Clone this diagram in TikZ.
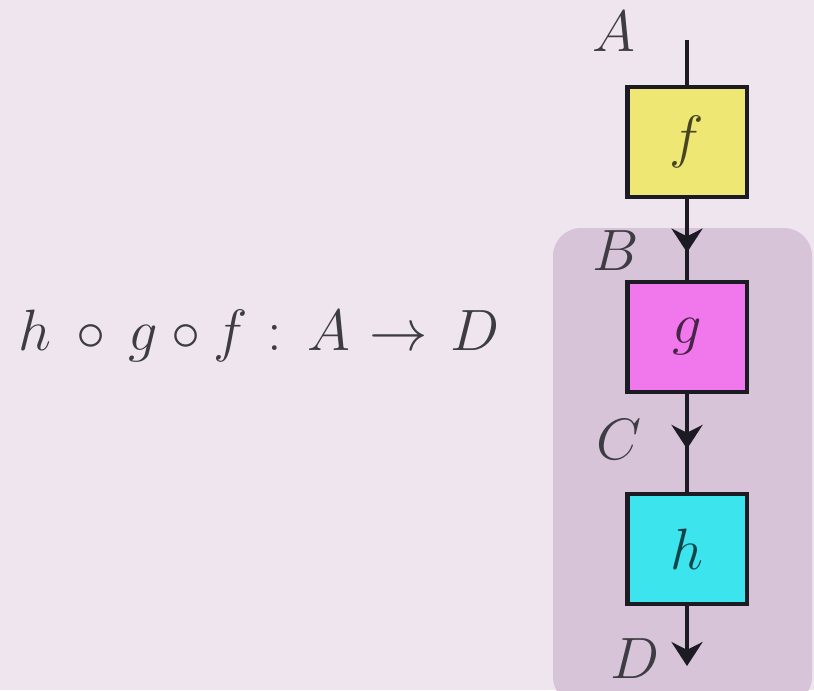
\documentclass[tikz,border=0pt]{standalone}
\usepackage{amsmath}
\usetikzlibrary{arrows.meta,decorations.markings}

\definecolor{bgpink}{RGB}{239,229,239}
\definecolor{hilite}{RGB}{215,196,217}
\definecolor{wirecol}{RGB}{28,26,34}
\definecolor{fyellow}{RGB}{238,231,116}
\definecolor{gmagenta}{RGB}{240,120,236}
\definecolor{hcyan}{RGB}{60,229,238}

\tikzset{
  mapbox/.style={draw=wirecol,line width=1.5pt,minimum width=1.49cm,minimum height=1.37cm,inner sep=0pt,font=\huge,text opacity=0.7},
  objlabel/.style={inner sep=0pt,font=\huge,text=wirecol!85},
  wire/.style={draw=wirecol,line width=1.6pt},
  tip/.tip={Stealth[length=8.5pt,width=11pt]},
  midarrow/.style={postaction={decorate},decoration={markings,
      mark=at position #1 with {\arrow{tip}}}}
}

\begin{document}
\begin{tikzpicture}[x=0.0125cm,y=-0.0125cm]
  % page and shaded block around g and h
  \fill[bgpink] (0,0) rectangle (814,690);
  \useasboundingbox (0,0) rectangle (814,690);
  \fill[hilite,rounded corners=0.35cm] (553,228) rectangle (812,705);

  % the three maps
  \node[mapbox,fill=fyellow] (f) at (687,142) {$f$};
  \node[mapbox,fill=gmagenta] (g) at (687,337) {$g$};
  \node[mapbox,fill=hcyan] (h) at (687,549) {$h$};
  \coordinate (top) at (687,40);
  \coordinate (bottom) at (687,666);

  % wires between them
  \draw[wire] (top) -- (f.north);
  \draw[wire,midarrow=0.66] (f.south) -- (g.north);
  \draw[wire,midarrow=0.56] (g.south) -- (h.north);
  \draw[wire,-tip] (h.south) -- (bottom);

  % object labels
  \node[objlabel] (labA) at (614,32) {$A$};
  \node[objlabel] (labB) at (616,251) {$B$};
  \node[objlabel] (labC) at (619,440) {$C$};
  \node[objlabel] (labD) at (635,659) {$D$};

  \node[objlabel,anchor=base] (comp) at (259,350)
    {$h\mkern4mu\circ\mkern3mu g\circ f\mkern1mu :\mkern3mu A\mkern1mu\to\mkern2mu D$};
\end{tikzpicture}
\end{document}
